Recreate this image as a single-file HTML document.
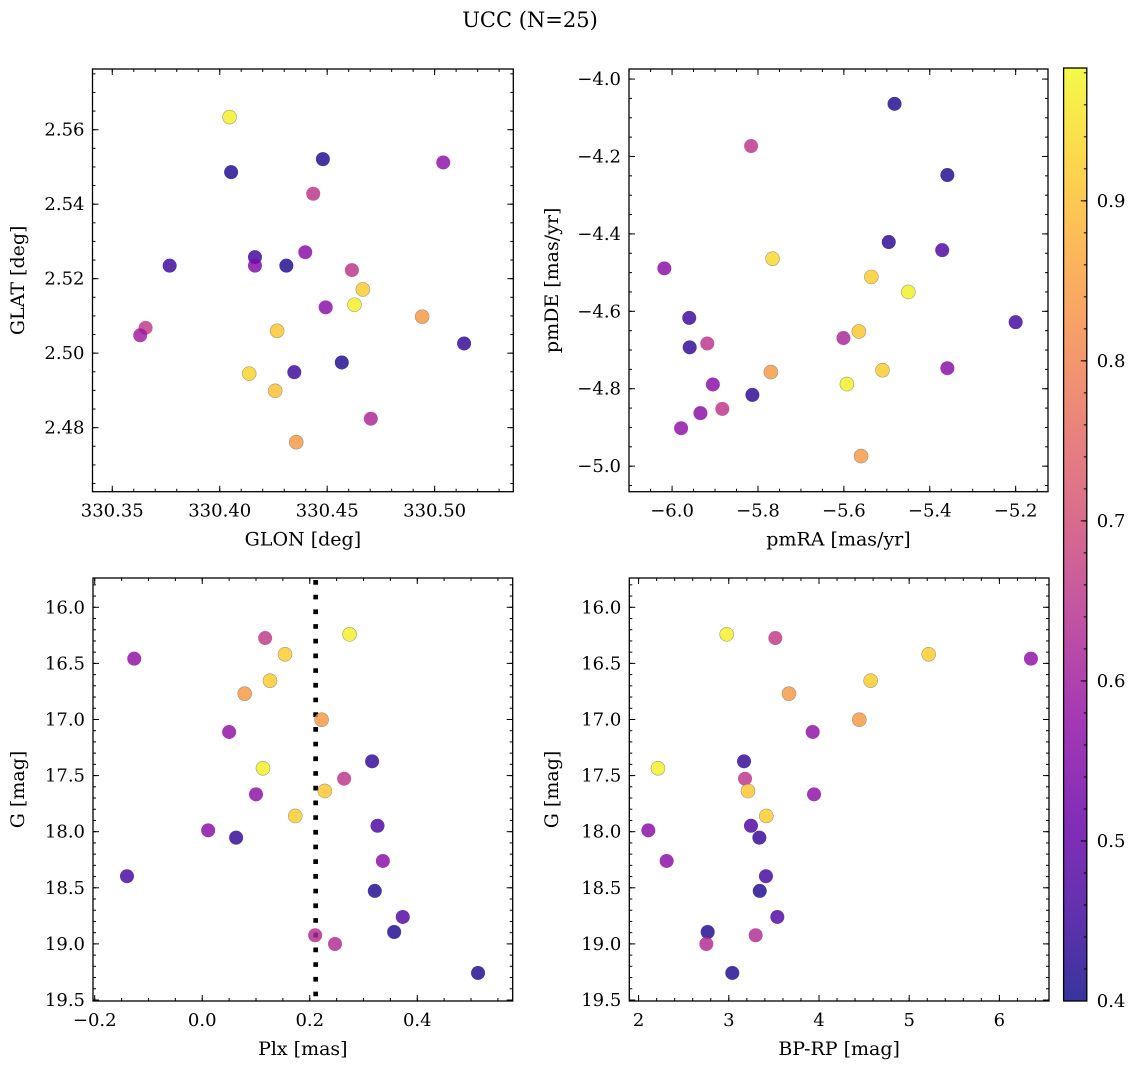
<!DOCTYPE html>
<html><head><meta charset="utf-8"><style>
html,body{margin:0;padding:0;background:#fff;}
svg{display:block;font-family:"DejaVu Serif","Liberation Serif",serif;}
</style></head><body>
<svg id="fig" width="1136" height="1068" viewBox="0 0 1136 1068" xmlns="http://www.w3.org/2000/svg">
<text x="530" y="27" font-size="21" text-anchor="middle">UCC (N=25)</text>
</svg>
<script>
// ---- data ----
const glon = [330.4046,330.4053,330.448,330.504,330.4435,330.3767,330.4164,330.4164,330.431,330.4398,330.4615,330.4666,330.4627,330.4493,330.3655,330.363,330.4267,330.4942,330.5137,330.4568,330.4137,330.4347,330.4258,330.4703,330.4356];
const glat = [2.5634,2.5486,2.5521,2.5512,2.5428,2.5235,2.5258,2.5235,2.5235,2.5271,2.5223,2.5171,2.5130,2.5123,2.5068,2.5048,2.506,2.5098,2.5026,2.4975,2.4945,2.4949,2.4899,2.4824,2.4761];
const probPos = [0.97,0.42,0.42,0.57,0.65,0.45,0.45,0.55,0.42,0.56,0.65,0.92,0.97,0.56,0.66,0.6,0.91,0.84,0.44,0.42,0.93,0.45,0.9,0.62,0.84];
const pmra = [-5.482,-5.816,-5.359,-5.4955,-5.371,-5.766,-6.018,-5.536,-5.450,-5.960,-5.200,-5.565,-5.601,-5.918,-5.959,-5.510,-5.770,-5.359,-5.905,-5.593,-5.813,-5.883,-5.934,-5.979,-5.560];
const pmde = [-4.064,-4.173,-4.248,-4.421,-4.442,-4.464,-4.489,-4.511,-4.550,-4.617,-4.628,-4.652,-4.669,-4.683,-4.693,-4.752,-4.757,-4.747,-4.789,-4.788,-4.816,-4.852,-4.863,-4.902,-4.974];
const probPm = [0.42,0.65,0.42,0.43,0.47,0.94,0.56,0.92,0.97,0.45,0.46,0.91,0.62,0.65,0.44,0.92,0.84,0.56,0.56,0.97,0.43,0.65,0.56,0.57,0.84];
const plx = [-0.1265,0.117,0.154,0.274,0.126,0.079,0.222,0.050,0.316,0.113,0.264,0.228,0.100,0.173,0.326,0.011,0.063,0.336,-0.140,0.321,0.373,0.357,0.210,0.247,0.513];
const gmag = [16.458,16.274,16.419,16.241,16.654,16.770,17.002,17.111,17.373,17.435,17.528,17.637,17.667,17.860,17.947,17.988,18.053,18.261,18.397,18.528,18.760,18.894,18.923,19.001,19.259];
const bprp = [6.350,3.516,5.216,2.977,4.573,3.667,4.447,3.930,3.169,2.215,3.180,3.213,3.945,3.416,3.246,2.108,3.339,2.311,3.412,3.343,3.538,2.766,3.298,2.751,3.039];
const probPhot = [0.57,0.66,0.92,0.97,0.92,0.84,0.84,0.57,0.44,0.97,0.65,0.91,0.57,0.92,0.47,0.56,0.44,0.56,0.46,0.42,0.48,0.42,0.63,0.63,0.42];
const plxLine = [0.211];
const cbarTicks = [0.4,0.5,0.6,0.7,0.8,0.9];

const NS="http://www.w3.org/2000/svg";
const svg=document.getElementById('fig');
function mk(tag,attrs,parent){const e=document.createElementNS(NS,tag);for(const k in attrs)e.setAttribute(k,attrs[k]);(parent||svg).appendChild(e);return e;}
const stops=[[0,[13,8,135]],[0.1,[65,4,157]],[0.2,[106,0,168]],[0.3,[143,13,164]],[0.4,[177,42,144]],[0.5,[204,71,120]],[0.6,[225,100,98]],[0.7,[242,132,75]],[0.8,[252,166,54]],[0.9,[252,206,37]],[1,[240,249,33]]];
function plasma(t){t=Math.max(0,Math.min(1,t));for(let i=1;i<stops.length;i++){if(t<=stops[i][0]){const a=stops[i-1],b=stops[i];const f=(t-a[0])/(b[0]-a[0]);const c=a[1].map((v,j)=>Math.round(v+(b[1][j]-v)*f));return `rgb(${c[0]},${c[1]},${c[2]})`;}}return 'rgb(240,249,33)';}
const VMIN=0.4,VMAX=0.983;
function cmap(p){return plasma((p-VMIN)/(VMAX-VMIN));}
function fmt(v,d){const s=Math.abs(v).toFixed(d);return (v<-1e-9?'\u2212':'')+s;}

function panel(o){
  const g=mk('g',{});
  
  
  const X=v=>o.x0+(v-o.xmin)/(o.xmax-o.xmin)*(o.x1-o.x0);
  const Y=v=>o.y1-(v-o.ymin)/(o.ymax-o.ymin)*(o.y1-o.y0);
  function ticks(min,max,step){const out=[];const s=Math.ceil(min/step-1e-6);for(let k=s;k*step<=max+1e-9;k++)out.push(k*step);return out;}
  const tg=mk('g',{stroke:'#000','stroke-width':1},g);
  ticks(o.xmin,o.xmax,o.xminor).forEach(v=>{const x=X(v);mk('line',{x1:x,x2:x,y1:o.y1,y2:o.y1-3},tg);mk('line',{x1:x,x2:x,y1:o.y0,y2:o.y0+3},tg);});
  ticks(o.ymin,o.ymax,o.yminor).forEach(v=>{const y=Y(v);mk('line',{x1:o.x0,x2:o.x0+3,y1:y,y2:y},tg);mk('line',{x1:o.x1,x2:o.x1-3,y1:y,y2:y},tg);});
  ticks(o.xmin,o.xmax,o.xmajor).forEach(v=>{const x=X(v);mk('line',{x1:x,x2:x,y1:o.y1,y2:o.y1-6},tg);mk('line',{x1:x,x2:x,y1:o.y0,y2:o.y0+6},tg);
    const t=mk('text',{x:x,y:o.y1+25,'font-size':18,'text-anchor':'middle',stroke:'none'},g);t.textContent=fmt(v,o.xd);
    
    });
  ticks(o.ymin,o.ymax,o.ymajor).forEach(v=>{const y=Y(v);mk('line',{x1:o.x0,x2:o.x0+6,y1:y,y2:y},tg);mk('line',{x1:o.x1,x2:o.x1-6,y1:y,y2:y},tg);
    const t=mk('text',{x:o.x0-8,y:y+6,'font-size':18,'text-anchor':'end'},g);t.textContent=fmt(Math.abs(v)>10?Math.abs(v):v,o.yd);
    
    });
  const cid='c'+o.name;
  const cp=mk('clipPath',{id:cid},g);mk('rect',{x:o.x0,y:o.y0,width:o.x1-o.x0,height:o.y1-o.y0},cp);
  const pg=mk('g',{'clip-path':`url(#${cid})`},g);
  if(o.vline){o.vline.forEach(v=>{const l=mk('line',{x1:X(v),x2:X(v),y1:o.y0+2,y2:o.y1,stroke:'#000','stroke-width':4.7,'stroke-dasharray':'4.7 10'},pg);
    
    });}
  o.xs.forEach((xv,i)=>{const c=mk('circle',{cx:X(xv),cy:Y(o.ys[i]),r:7,fill:cmap(o.ps[i]),'fill-opacity':0.82,stroke:'#777','stroke-opacity':o.ps[i]>0.75?0.7:0,'stroke-width':0.6},pg);
    
    });
  mk('rect',{x:o.x0,y:o.y0,width:o.x1-o.x0,height:o.y1-o.y0,fill:'none',stroke:'#000','stroke-width':1.3},g);
  const xl=mk('text',{x:(o.x0+o.x1)/2,y:o.y1+54,'font-size':19,'text-anchor':'middle'},g);xl.textContent=o.xlabel;
  
  
  const yx=o.ylx,yy=(o.y0+o.y1)/2;
  const yl=mk('text',{x:yx,y:yy,'font-size':19,'text-anchor':'middle',transform:`rotate(-90 ${yx} ${yy})`},g);yl.textContent=o.ylabel;
  
  
}

panel({name:'panel-glon-glat',x0:92.5,x1:513.3,y0:69,y1:491.7,xmin:330.3408,xmax:330.5366,ymin:2.4628,ymax:2.5763,xmajor:0.05,xminor:0.01,ymajor:0.02,yminor:0.005,xd:2,yd:2,xs:glon,ys:glat,ps:probPos,xlabel:'GLON [deg]',ylabel:'GLAT [deg]',ylx:24});
panel({name:'panel-pm',x0:629,x1:1048,y0:69,y1:491.7,xmin:-6.1003,xmax:-5.1247,ymin:-5.066,ymax:-3.974,xmajor:0.2,xminor:0.05,ymajor:0.2,yminor:0.05,xd:1,yd:1,xs:pmra,ys:pmde,ps:probPm,xlabel:'pmRA [mas/yr]',ylabel:'pmDE [mas/yr]',ylx:558});
panel({name:'panel-plx-g',x0:93,x1:512.7,y0:578,y1:1001,xmin:-0.2032,xmax:0.5775,ymin:-19.509,ymax:-15.739,xmajor:0.2,xminor:0.05,ymajor:0.5,yminor:0.1,xd:1,yd:1,xs:plx,ys:gmag.map(v=>-v),ps:probPhot,xlabel:'Plx [mas]',ylabel:'G [mag]',ylx:24,vline:plxLine});
panel({name:'panel-cmd',x0:629.3,x1:1049,y0:578,y1:1001,xmin:1.897,xmax:6.550,ymin:-19.509,ymax:-15.739,xmajor:1,xminor:0.2,ymajor:0.5,yminor:0.1,xd:0,yd:1,xs:bprp,ys:gmag.map(v=>-v),ps:probPhot,xlabel:'BP-RP [mag]',ylabel:'G [mag]',ylx:558});

// colorbar
const cb=mk('g',{});


const cx0=1063.6,cx1=1086.8,cy0=68,cy1=1001;
const CY=v=>cy1-(v-VMIN)/(VMAX-VMIN)*(cy1-cy0);
const defs=mk('defs',{},cb);const lg=mk('linearGradient',{id:'cbg',x1:0,y1:1,x2:0,y2:0},defs);
for(let i=0;i<=20;i++){mk('stop',{offset:i/20,'stop-color':plasma(i/20),'stop-opacity':0.82},lg);}
mk('rect',{x:cx0,y:cy0,width:cx1-cx0,height:cy1-cy0,fill:'url(#cbg)'},cb);
for(let v=0.4;v<=VMAX+1e-9;v+=0.02){mk('line',{x1:cx1,x2:cx1-3,y1:CY(v),y2:CY(v),stroke:'#000','stroke-width':1},cb);}
cbarTicks.forEach(v=>{mk('line',{x1:cx1,x2:cx1-6,y1:CY(v),y2:CY(v),stroke:'#000','stroke-width':1},cb);
  const t=mk('text',{x:cx1+10,y:CY(v)+6,'font-size':18},cb);t.textContent=v.toFixed(1);
  
  });
mk('rect',{x:cx0,y:cy0,width:cx1-cx0,height:cy1-cy0,fill:'none',stroke:'#000','stroke-width':1.3},cb);
</script>
</body></html>
